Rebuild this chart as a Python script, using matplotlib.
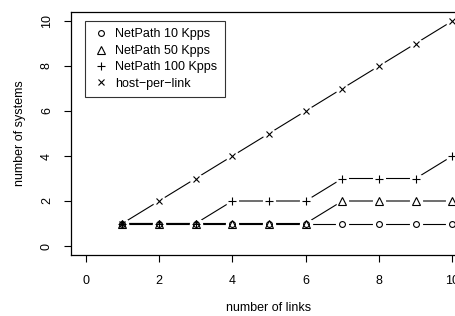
import matplotlib
matplotlib.use("Agg")
import matplotlib.pyplot as plt

links = [1, 2, 3, 4, 5, 6, 7, 8, 9, 10]
netpath_10 = [1, 1, 1, 1, 1, 1, 1, 1, 1, 1]
netpath_50 = [1, 1, 1, 1, 1, 1, 2, 2, 2, 2]
netpath_100 = [1, 1, 1, 2, 2, 2, 3, 3, 3, 4]
host_per_link = [1, 2, 3, 4, 5, 6, 7, 8, 9, 10]
labels = ["NetPath 10 Kpps", "NetPath 50 Kpps", "NetPath 100 Kpps", "host\u2212per\u2212link"]
markers = ["o", "^", "+", "x"]
xticks = [0, 2, 4, 6, 8, 10]
yticks = [0, 2, 4, 6, 8, 10]

plt.rcParams['font.family'] = ['Liberation Sans', 'DejaVu Sans']
fs = 9.0

fig = plt.figure(figsize=(4.55, 3.16), dpi=100)
W, H = 455, 316
left_px, right_px, top_px, bot_px = 71, 467, 12, 255
ax = fig.add_axes([left_px / W, 1 - bot_px / H, (right_px - left_px) / W, (bot_px - top_px) / H])
ax.set_xlim(-0.4, 10.4)
ax.set_ylim(-0.4, 10.4)

series = [netpath_10, netpath_50, netpath_100, host_per_link]
msizes = [4.2, 5.2, 6.0, 5.0]
# lines
for ys in series:
    ax.plot(links, ys, color='black', lw=0.8, zorder=2)
# gaps (R type="b")
for ys in series:
    ax.plot(links, ys, linestyle='none', marker='o', markersize=8.5,
            markerfacecolor='white', markeredgecolor='white', zorder=3)
# markers
handles = []
for ys, m, ms, lab in zip(series, markers, msizes, labels):
    h, = ax.plot(links, ys, linestyle='none', marker=m, markersize=ms,
                 markerfacecolor='none', markeredgecolor='black', markeredgewidth=0.8,
                 color='black', zorder=4, label=lab)
    handles.append(h)

ax.set_xticks(xticks)
ax.set_yticks(yticks)
ax.set_xticklabels([str(t) for t in xticks], fontsize=fs)
ax.set_yticklabels([str(t) for t in yticks], fontsize=fs, rotation=90, va='center')
ax.tick_params(direction='out', length=5, width=0.8)
ax.tick_params(axis='x', pad=9.5)
ax.tick_params(axis='y', pad=8)
for s in ax.spines.values():
    s.set_linewidth(0.9)

ax.set_xlabel("number of links", fontsize=fs, labelpad=11)
ax.set_ylabel("number of systems", fontsize=fs, labelpad=11)

leg = ax.legend(handles=handles, loc='upper left', bbox_to_anchor=(14 / (right_px - left_px), 1 - 9 / (bot_px - top_px)),
                fontsize=fs, frameon=True, fancybox=False, edgecolor='black',
                handlelength=1.3, handletextpad=0.5, labelspacing=0.35, borderpad=0.6,
                borderaxespad=0)
leg.get_frame().set_linewidth(0.8)

fig.savefig("out.png", dpi=100)
